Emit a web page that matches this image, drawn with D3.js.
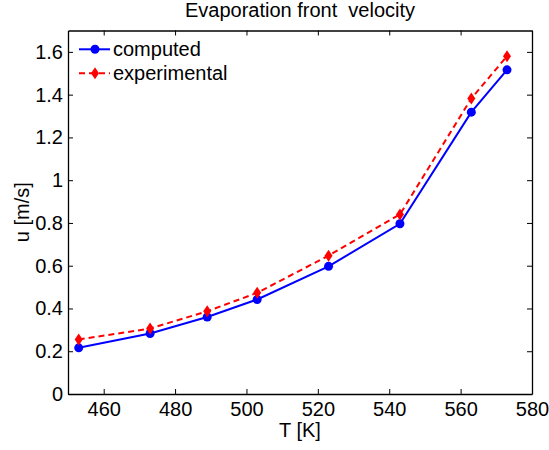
<!DOCTYPE html>
<html>
<head>
<meta charset="utf-8">
<script src="https://cdn.jsdelivr.net/npm/d3@7"></script>
<style>
  html, body { margin: 0; padding: 0; background: #fff; }
  text { font-family: "Liberation Sans", Arial, Helvetica, sans-serif; fill: #000; }
</style>
</head>
<body>
<div id="viz"></div>
<script>
const temperatures = [453, 473, 489, 503, 523, 543, 563, 573];
const computed = [0.216, 0.283, 0.360, 0.442, 0.597, 0.796, 1.318, 1.516];
const experimental = [0.255, 0.306, 0.387, 0.473, 0.647, 0.840, 1.382, 1.580];
const xTicks = [460, 480, 500, 520, 540, 560, 580];
const yTicks = [0, 0.2, 0.4, 0.6, 0.8, 1, 1.2, 1.4, 1.6];

const width = 549, height = 450;
const margin = { top: 30.5, right: 17, bottom: 56, left: 68 };
const iw = width - margin.left - margin.right;
const ih = height - margin.top - margin.bottom;
const fontSize = "20px";

const svg = d3.select("#viz").append("svg")
  .attr("width", width).attr("height", height);

const g = svg.append("g").attr("transform", `translate(${margin.left},${margin.top})`);

const x = d3.scaleLinear().domain([450, 580]).range([0, iw]);
const y = d3.scaleLinear().domain([0, 1.7]).range([ih, 0]);

// box + inward ticks on all sides
const tickLen = 5;
const fmt = (d) => String(d);

g.append("g").attr("transform", `translate(0,${ih})`)
  .call(d3.axisBottom(x).tickValues(xTicks).tickFormat(fmt).tickSizeInner(-tickLen).tickSizeOuter(0).tickPadding(8));
g.append("g")
  .call(d3.axisTop(x).tickValues(xTicks).tickFormat("").tickSizeInner(-tickLen).tickSizeOuter(0));
g.append("g")
  .call(d3.axisLeft(y).tickValues(yTicks).tickFormat(fmt).tickSizeInner(-tickLen).tickSizeOuter(0).tickPadding(5));
g.append("g").attr("transform", `translate(${iw},0)`)
  .call(d3.axisRight(y).tickValues(yTicks).tickFormat("").tickSizeInner(-tickLen).tickSizeOuter(0));

g.selectAll(".domain").attr("stroke", "#000").attr("stroke-width", 1.3);
g.selectAll(".tick line").attr("stroke", "#000").attr("stroke-width", 1);
g.selectAll(".tick text").style("font-size", fontSize).attr("fill", "#000");

const line = d3.line().x((d) => x(d[0])).y((d) => y(d[1]));
const compPts = temperatures.map((t, i) => [t, computed[i]]);
const expPts = temperatures.map((t, i) => [t, experimental[i]]);

g.append("path").datum(expPts).attr("d", line)
  .attr("fill", "none").attr("stroke", "#ff0000").attr("stroke-width", 2).attr("stroke-dasharray", "6,4");
g.append("path").datum(compPts).attr("d", line)
  .attr("fill", "none").attr("stroke", "#0000ff").attr("stroke-width", 2);

const diamond = (cx, cy) => `M${cx},${cy - 6}L${cx + 4},${cy}L${cx},${cy + 6}L${cx - 4},${cy}Z`;

g.selectAll("circle.comp").data(compPts).enter().append("circle")
  .attr("class", "comp").attr("cx", (d) => x(d[0])).attr("cy", (d) => y(d[1]))
  .attr("r", 4.5).attr("fill", "#0000ff");
g.selectAll("path.exp").data(expPts).enter().append("path")
  .attr("class", "exp").attr("d", (d) => diamond(x(d[0]), y(d[1])))
  .attr("fill", "#ff0000");

// legend
const leg = svg.append("g");
const legItems = [
  { label: "computed", color: "#0000ff", dash: null, marker: "circle", y: 49.3 },
  { label: "experimental", color: "#ff0000", dash: "6,4", marker: "diamond", y: 73.3 }
];
legItems.forEach((it) => {
  leg.append("line").attr("x1", 79).attr("x2", 110).attr("y1", it.y).attr("y2", it.y)
    .attr("stroke", it.color).attr("stroke-width", 2).attr("stroke-dasharray", it.dash);
  if (it.marker === "circle") {
    leg.append("circle").attr("cx", 95).attr("cy", it.y).attr("r", 4.5).attr("fill", it.color);
  } else {
    leg.append("path").attr("d", diamond(95, it.y)).attr("fill", it.color);
  }
  leg.append("text").attr("x", 113).attr("y", it.y).attr("dy", "0.35em")
    .style("font-size", fontSize).text(it.label);
});

// titles
svg.append("text").attr("x", margin.left + iw / 2).attr("y", 17)
  .attr("text-anchor", "middle").style("font-size", fontSize).style("white-space", "pre")
  .text("Evaporation front  velocity");
svg.append("text").attr("x", margin.left + iw / 2).attr("y", 436.5)
  .attr("text-anchor", "middle").style("font-size", fontSize).text("T [K]");
svg.append("text").attr("transform", `translate(29,${margin.top + ih / 2}) rotate(-90)`)
  .attr("text-anchor", "middle").style("font-size", fontSize).text("u [m/s]");
</script>
</body>
</html>
